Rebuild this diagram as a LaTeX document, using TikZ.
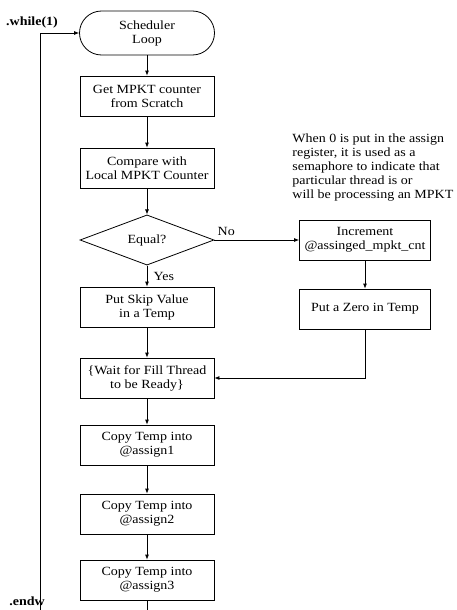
\documentclass[tikz,border=0pt]{standalone}
\usepackage{fontspec}
\setmainfont{Liberation Serif}[FakeStretch=1.12]
\usetikzlibrary{arrows.meta,shapes.geometric}

\begin{document}
\begin{tikzpicture}[x=1pt, y=-1pt, line width=0.8pt,
                    every node/.style={font=\fontsize{12.5}{14}\selectfont},
                    Step_box/.style={draw, rectangle, minimum width=134pt, minimum height=40pt,
                                     align=center, inner sep=1pt},
                    Term/.style={draw, rounded corners=22pt, minimum width=135pt,
                                 minimum height=44pt, align=center},
                    Test/.style={draw, diamond, minimum width=134pt, minimum height=42pt, inner sep=0pt},
                    arrow/.style={-{Latex[length=5pt,width=4pt]}},
                    Loop_label/.style={font=\fontsize{12.5}{14}\selectfont\bfseries, inner sep=0pt}
                    ]
        \useasboundingbox (0,0) rectangle (456,610);

        \node[Term]     (Sl)  at (147,33)  {Scheduler\\Loop};
        \node[Step_box] (Gc)  at (147,96)  {Get MPKT counter\\from Scratch};
        \node[Step_box] (Cl)  at (147,168) {Compare with\\Local MPKT Counter};
        \node[Test]     (Eq)  at (147,240) {Equal?};
        \node[Step_box] (Ps)  at (147,307) {Put Skip Value\\in a Temp};
        \node[Step_box] (Wf)  at (147,378) {\{Wait for Fill Thread\\to be Ready\}};
        \node[Step_box] (Ca1) at (147,445) {Copy Temp into\\@assign1};
        \node[Step_box] (Ca2) at (147,514) {Copy Temp into\\@assign2};
        \node[Step_box] (Ca3) at (147,580) {Copy Temp into\\@assign3};

        \node[Step_box, minimum width=131pt] (Ic) at (365,240) {Increment\\@assinged\_mpkt\_cnt};
        \node[Step_box, minimum width=131pt] (Pz) at (365,309) {Put a Zero in Temp};
        \node[align=left, anchor=west, inner sep=0pt] (Note) at (292,168)
            {When 0 is put in the assign\\register, it is used as a\\semaphore to indicate that\\particular thread is or\\will be processing an MPKT};

        \node[Loop_label] (While) at (32,22)  {.while(1)};
        \node[Loop_label] (Endw)  at (27,601) {.endw};
        \coordinate (Lb) at (40,610);
        \coordinate (Mb) at (147,610);

        \foreach \a/\b in {Sl/Gc, Gc/Cl, Cl/Eq, Ps/Wf, Wf/Ca1, Ca1/Ca2, Ca2/Ca3, Ic/Pz}
            \draw[arrow] (\a) -- (\b);
        \draw[arrow] (Eq) -- (Ps) node[midway, right=3pt] {Yes};
        \draw[arrow] (Eq) -- (Ic) node[pos=0.14, above=1pt] {No};
        \draw[arrow] (Pz) |- (Wf);
        \draw (Ca3) -- (Mb);
        \draw[arrow] (Lb) |- (Sl);
    \end{tikzpicture}
\end{document}
